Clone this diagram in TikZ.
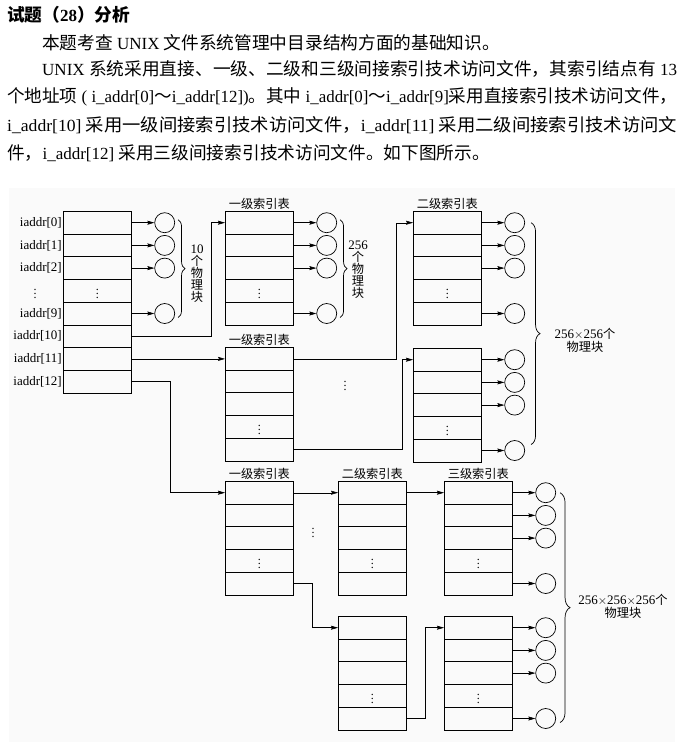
\documentclass[tikz,border=0pt]{standalone}
\usepackage{graphicx}
\usepackage{fontspec}
\setmainfont{Liberation Serif}
\newfontfamily\zhtext[Scale=1.04]{Noto Sans CJK SC}
\newfontfamily\zhfig[Scale=0.94]{Noto Sans CJK SC}
\usetikzlibrary{arrows.meta, decorations.pathreplacing, calc}

\tikzset{
  cell/.style={draw, line width=0.7pt, minimum width=68pt, minimum height=22.7pt,
    inner sep=0pt, anchor=north west, font=\fontsize{12}{12}\selectfont},
  blk/.style={draw, circle, line width=0.7pt, minimum size=20pt, inner sep=0pt},
  arr/.style={-{Stealth[length=7pt,width=4pt,inset=1pt]}, line width=0.6pt},
  brc/.style={decorate, decoration={brace, amplitude=#1}, line width=0.7pt},
  brc/.default=8pt,
  para/.style={anchor=west, inner sep=0pt, font=\fontsize{17}{20}\selectfont},
  tag/.style={inner sep=1pt, font=\fontsize{13}{12}\selectfont},
  ttl/.style={above, inner sep=1.5pt, font=\fontsize{13}{12}\selectfont\zhfig},
  dts/.style={inner sep=0pt, font=\fontsize{12}{12}\selectfont},
}

% table: name, left x, top y, number of rows (row 4 holds the dots)
\newcommand{\idxtab}[4]{%
  \foreach \r in {1,...,#4}{%
    \node[cell] (#1-\r) at (#2,{#3+(\r-1)*22.7}) {\ifnum\r=4 $\vdots$\fi};}
}

\begin{document}
\begin{tikzpicture}[x=1pt, y=-1pt]
\useasboundingbox (0,0) rectangle (693,742);
\fill[black!2] (9,188) rectangle (675,742);

% text above the figure
\node[para, font=\fontsize{17}{20}\selectfont\bfseries] (hd) at (7,15) {{\zhtext 试题（}28{\zhtext ）分析}};
\node[para] (l1) at (42,43) {{\zhtext 本题考查} UNIX {\zhtext 文件系统管理中目录结构方面的基础知识。}};
\node[para] (l2) at (42,69) {\resizebox{635pt}{\height}{UNIX {\zhtext 系统采用直接、一级、二级和三级间接索引技术访问文件，其索引结点有} 13}};
\node[para] (l3) at (7,97) {\resizebox{670pt}{\height}{{\zhtext 个地址项} ( i\_addr[0]{\zhtext ～}i\_addr[12]){\zhtext 。其中} i\_addr[0]{\zhtext ～}i\_addr[9]{\zhtext 采用直接索引技术访问文件，}}};
\node[para] (l4) at (7,125) {\resizebox{670pt}{\height}{i\_addr[10] {\zhtext 采用一级间接索引技术访问文件，}i\_addr[11] {\zhtext 采用二级间接索引技术访问文}}};
\node[para] (l5) at (7,153) {{\zhtext 件，}i\_addr[12] {\zhtext 采用三级间接索引技术访问文件。如下图所示。}};

% tables
\idxtab{in}{63}{211}{8}
\idxtab{ta}{225}{211}{5}
\idxtab{tb}{413}{211}{5}
\idxtab{tc}{225}{347}{5}
\idxtab{td}{413}{348}{5}
\idxtab{te}{225}{481}{5}
\idxtab{tf}{338}{481}{5}
\idxtab{tg}{444}{481}{5}
\idxtab{th}{338}{616}{5}
\idxtab{ti}{444}{616}{5}

\foreach \r/\lab in {1/0, 2/1, 3/2, 5/9, 6/10, 7/11, 8/12}
  \node[tag, left] at (in-\r.west) {iaddr[\lab]};
\node[dts] at ($(in-4.west)+(-28,0)$) {$\vdots$};

\node[ttl] at (ta-1.north) {一级索引表};
\node[ttl] at (tb-1.north) {二级索引表};
\node[ttl] at (tc-1.north) {一级索引表};
\node[ttl] at (te-1.north) {一级索引表};
\node[ttl] at (tf-1.north) {二级索引表};
\node[ttl] at (tg-1.north) {三级索引表};

% physical blocks
\foreach \t in {in,ta,tb,td,tg,ti}{
  \foreach \r in {1,2,3,5}{
    \node[blk] (\t-c\r) at ($(\t-\r.east)+(33,0)$) {};
    \draw[arr] (\t-\r.east) -- (\t-c\r.west);
  }
}

% pointers between tables
\draw[arr] (in-6.east) -- ++(80,0) |- (ta-1.west);
\draw[arr] (in-7.east) -- (tc-1.west |- in-7.east);
\draw[arr] (in-8.east) -- ++(39,0) |- (te-1.west);
\draw[arr, line width=0.4pt] (tc-1.east) -- ++(102,0) |- (tb-1.west);
\draw[arr] (tc-5.east) -- ++(109,0) |- (td-1.west);
\draw[arr, line width=0.4pt] (te-1.east) -- (tf-1.west);
\draw[arr] (tf-1.east) -- (tg-1.west);
\draw[arr] (te-5.east) -- ++(19,0) |- (th-1.west);
\draw[arr] (th-5.east) -- ++(19,0) |- (ti-1.west);
\node[dts] at (345,383) {$\vdots$};
\node[dts] at (313,530) {$\vdots$};

% braces
\draw[brc=7pt] ($(in-c1.east)+(3,-3)$) -- ($(in-c5.east)+(3,4)$);
\draw[brc=7pt] ($(ta-c1.east)+(3,-3)$) -- ($(ta-c5.east)+(3,4)$);
\draw[brc=9pt] ($(tb-c1.east)+(6,0)$) -- ($(td-c5.east)+(6,-6)$);
\draw[brc=10pt] ($(tg-c1.east)+(4,0)$) -- ($(ti-c5.east)+(4,4)$);

\node[tag, align=center] (n10) at (197,274) {10\\{\zhfig 个}\\{\zhfig 物}\\{\zhfig 理}\\{\zhfig 块}};
\node[tag, align=center] (n256) at (358,270) {256\\{\zhfig 个}\\{\zhfig 物}\\{\zhfig 理}\\{\zhfig 块}};
\node[tag, align=center, font=\fontsize{13}{13}\selectfont] (n2) at (585,340) {256$\times$256{\zhfig 个}\\{\zhfig 物理块}};
\node[tag, align=center, font=\fontsize{13}{13}\selectfont] (n3) at (623,606) {256$\times$256$\times$256{\zhfig 个}\\{\zhfig 物理块}};
\end{tikzpicture}
\end{document}
